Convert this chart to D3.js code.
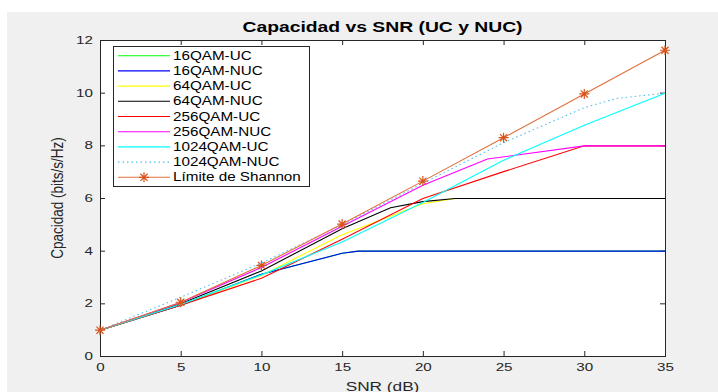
<!DOCTYPE html>
<html>
<head>
<meta charset="utf-8">
<script src="https://cdn.jsdelivr.net/npm/d3@7"></script>
<style>
  html, body { margin: 0; padding: 0; background: #ffffff; }
  svg { display: block; font-family: Arial, "Liberation Sans", Helvetica, sans-serif; }
</style>
</head>
<body>
<svg id="chart" width="718" height="392"></svg>
<script>
// ---- data -------------------------------------------------------------
const xTicks = [0, 5, 10, 15, 20, 25, 30, 35];
const yTicks = [0, 2, 4, 6, 8, 10, 12];

const seriesNames = ["16QAM-UC", "16QAM-NUC", "64QAM-UC", "64QAM-NUC",
                     "256QAM-UC", "256QAM-NUC", "1024QAM-UC", "1024QAM-NUC",
                     "Límite de Shannon"];
const seriesColors = ["#00ff00", "#0000ff", "#ffff00", "#000000",
                      "#ff0000", "#ff00ff", "#00ffff", "#4dbeee", "#d95319"];

const snr16UC   = [0, 5, 10, 15, 16, 35];
const cap16UC   = [1, 1.95, 3.12, 3.92, 4, 4];
const snr16NUC  = [0, 5, 10, 15, 16, 35];
const cap16NUC  = [1, 1.95, 3.12, 3.92, 4, 4];
const snr64UC   = [0, 5, 10, 15, 20, 22, 35];
const cap64UC   = [1, 1.97, 3.08, 4.62, 5.8, 6, 6];
const snr64NUC  = [0, 5, 10, 15, 18, 20, 22, 35];
const cap64NUC  = [1, 2.0, 3.25, 4.85, 5.65, 5.88, 6, 6];
const snr256UC  = [0, 5, 10, 15, 20, 25, 30, 35];
const cap256UC  = [1, 1.95, 2.97, 4.45, 6.0, 7.02, 8.0, 8.0];
const snr256NUC = [0, 5, 10, 15, 20, 24, 30, 35];
const cap256NUC = [1, 2.05, 3.38, 4.95, 6.5, 7.5, 8.0, 8.0];
const snr1024UC  = [0, 5, 10, 15, 20, 25, 30, 35];
const cap1024UC  = [1, 1.98, 3.1, 4.35, 5.85, 7.45, 8.78, 10.0];
const snr1024NUC = [0, 5, 10, 15, 20, 25, 30, 32, 35];
const cap1024NUC = [1, 2.25, 3.55, 5.0, 6.58, 8.12, 9.45, 9.8, 10.0];
const snrShannon = [0, 5, 10, 15, 20, 25, 30, 35];
const capShannon = [1.00, 2.06, 3.46, 5.03, 6.66, 8.31, 9.97, 11.63];

const snrSets = [snr16UC, snr16NUC, snr64UC, snr64NUC, snr256UC, snr256NUC,
                 snr1024UC, snr1024NUC, snrShannon];
const capSets = [cap16UC, cap16NUC, cap64UC, cap64NUC, cap256UC, cap256NUC,
                 cap1024UC, cap1024NUC, capShannon];

const series = seriesNames.map((name, i) => ({
  name,
  color: seriesColors[i],
  dashed: name === "1024QAM-NUC",
  marker: name === "Límite de Shannon",
  points: snrSets[i].map((s, j) => ({ snr: s, cap: capSets[i][j] }))
}));

// ---- layout -----------------------------------------------------------
const W = 718, H = 392;
const plot = { left: 100, right: 665, top: 40, bottom: 356 };
const SX = 1.38;          // horizontal text stretch
const axisColor = "#262626";

const svg = d3.select("#chart");

// figure background
svg.append("rect").attr("x", 0).attr("y", 0).attr("width", W).attr("height", H).attr("fill", "#ffffff");
svg.append("rect").attr("x", 7).attr("y", 12).attr("width", W - 7).attr("height", H - 12).attr("fill", "#f0f0f0");

const x = d3.scaleLinear().domain([0, 35]).range([plot.left, plot.right]);
const y = d3.scaleLinear().domain([0, 12]).range([plot.bottom, plot.top]);

// axes area
svg.append("rect")
  .attr("x", plot.left).attr("y", plot.top)
  .attr("width", plot.right - plot.left).attr("height", plot.bottom - plot.top)
  .attr("fill", "#ffffff");

function stretchText(sel, sx) {
  sel.each(function () {
    const t = d3.select(this);
    const x0 = +t.attr("x") || 0;
    t.attr("x", x0 / sx).attr("transform", `scale(${sx},1)`);
  });
}

function styleAxis(g) {
  g.select(".domain").remove();
  g.selectAll(".tick line").attr("stroke", axisColor).attr("stroke-width", 1);
  g.selectAll(".tick text").attr("fill", axisColor).attr("font-size", 11);
}

const gx = svg.append("g")
  .attr("transform", `translate(0,${plot.bottom})`)
  .call(d3.axisBottom(x).tickValues(xTicks).tickSizeInner(-5).tickSizeOuter(0).tickPadding(7));
styleAxis(gx);
stretchText(gx.selectAll(".tick text"), SX);

const gy = svg.append("g")
  .attr("transform", `translate(${plot.left},0)`)
  .call(d3.axisLeft(y).tickValues(yTicks).tickSizeInner(-5).tickSizeOuter(0).tickPadding(7));
styleAxis(gy);
stretchText(gy.selectAll(".tick text"), SX);

const gxTop = svg.append("g")
  .attr("transform", `translate(0,${plot.top})`)
  .call(d3.axisTop(x).tickValues(xTicks).tickSizeInner(-5).tickSizeOuter(0).tickFormat(""));
styleAxis(gxTop);

const gyRight = svg.append("g")
  .attr("transform", `translate(${plot.right},0)`)
  .call(d3.axisRight(y).tickValues(yTicks).tickSizeInner(-5).tickSizeOuter(0).tickFormat(""));
styleAxis(gyRight);

// axes box
svg.append("rect")
  .attr("x", plot.left + 0.5).attr("y", plot.top + 0.5)
  .attr("width", plot.right - plot.left).attr("height", plot.bottom - plot.top)
  .attr("fill", "none").attr("stroke", axisColor).attr("stroke-width", 1);

// ---- series -----------------------------------------------------------
const line = d3.line().x(d => x(d.snr)).y(d => y(d.cap));

function asteriskPath(r) {
  const a = r * 0.7071;
  return `M${-r},0L${r},0M0,${-r}L0,${r}M${-a},${-a}L${a},${a}M${-a},${a}L${a},${-a}`;
}

// half-pixel offset keeps the flat 1px lines on a single pixel row
const gLines = svg.append("g").attr("transform", "translate(0,0.5)");
series.forEach(s => {
  gLines.append("path")
    .datum(s.points)
    .attr("d", line)
    .attr("fill", "none")
    .attr("stroke", s.marker ? "#e0703c" : s.color)
    .attr("stroke-width", 1.1)
    .attr("stroke-dasharray", s.dashed ? "1.5,3" : null);
  if (s.marker) {
    gLines.selectAll(null)
      .data(s.points)
      .enter().append("path")
      .attr("transform", d => `translate(${x(d.snr)},${y(d.cap)})`)
      .attr("d", asteriskPath(5))
      .attr("fill", "none")
      .attr("stroke", s.color)
      .attr("stroke-width", 1.2);
  }
});

// ---- legend -----------------------------------------------------------
const leg = { x: 113, y: 46, w: 196, h: 140, row0: 55.7, step: 15.2 };
const gLeg = svg.append("g");
gLeg.append("rect")
  .attr("x", leg.x + 0.5).attr("y", leg.y + 0.5)
  .attr("width", leg.w).attr("height", leg.h)
  .attr("fill", "#ffffff").attr("stroke", axisColor).attr("stroke-width", 1);

series.forEach((s, i) => {
  const yy = leg.row0 + i * leg.step;
  gLeg.append("line")
    .attr("x1", 118).attr("x2", 170).attr("y1", yy).attr("y2", yy)
    .attr("stroke", s.marker ? "#e0703c" : s.color)
    .attr("stroke-width", 1.1)
    .attr("stroke-dasharray", s.dashed ? "1.5,3" : null);
  if (s.marker) {
    gLeg.append("path")
      .attr("transform", `translate(144,${yy})`)
      .attr("d", asteriskPath(5))
      .attr("fill", "none").attr("stroke", s.color).attr("stroke-width", 1.2);
  }
  gLeg.append("g")
    .attr("transform", `translate(173,${yy + 4})`)
    .append("text")
    .attr("transform", `scale(${SX * 0.92},1)`)
    .attr("font-size", 12)
    .attr("fill", "#000000")
    .text(s.name);
});

// ---- titles -----------------------------------------------------------
svg.append("g")
  .attr("transform", `translate(${(plot.left + plot.right) / 2},31.5)`)
  .append("text")
  .attr("transform", `scale(${SX},1)`)
  .attr("text-anchor", "middle")
  .attr("font-size", 14)
  .attr("font-weight", "bold")
  .attr("fill", "#000000")
  .text("Capacidad vs SNR (UC y NUC)");

svg.append("g")
  .attr("transform", `translate(${(plot.left + plot.right) / 2},390.5)`)
  .append("text")
  .attr("transform", `scale(${SX},1)`)
  .attr("text-anchor", "middle")
  .attr("font-size", 12.5)
  .attr("fill", axisColor)
  .text("SNR (dB)");

svg.append("g")
  .attr("transform", `translate(63,${(plot.top + plot.bottom) / 2}) rotate(-90)`)
  .append("text")
  .attr("transform", `scale(1,${SX * 0.85})`)
  .attr("text-anchor", "middle")
  .attr("font-size", 13.5)
  .attr("fill", axisColor)
  .text("Cpacidad (bits/s/Hz)");
</script>
</body>
</html>
